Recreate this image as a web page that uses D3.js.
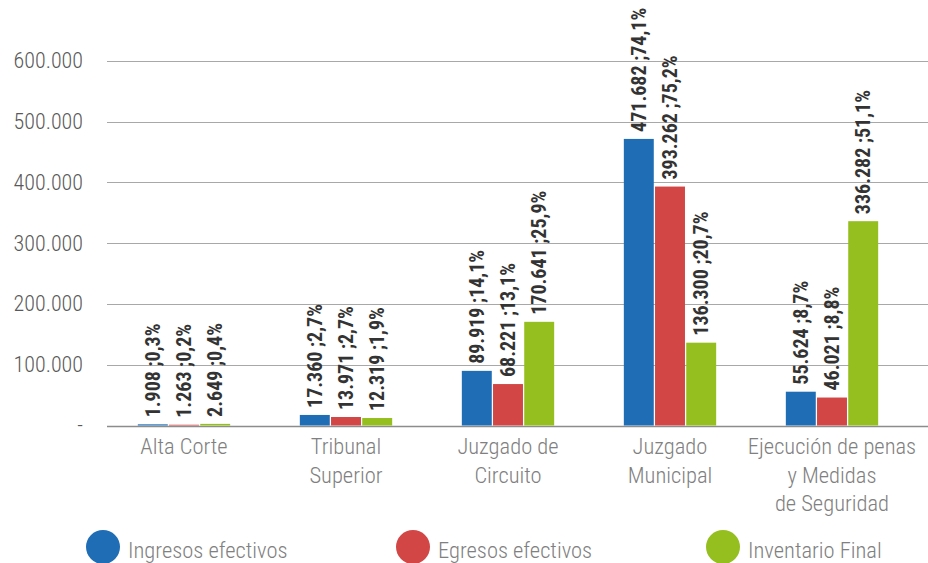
<!DOCTYPE html>
<html>
<head>
<meta charset="utf-8">
<script src="https://cdn.jsdelivr.net/npm/d3@7"></script>
<style>
  html, body { margin: 0; padding: 0; background: #fff; }
  svg { display: block; }
</style>
</head>
<body>
<svg id="chart" width="928" height="563"></svg>
<script>
const categories = ["Alta Corte", "Tribunal Superior", "Juzgado de Circuito", "Juzgado Municipal", "Ejecución de penas y Medidas de Seguridad"];
const categoryLines = [["Alta Corte"], ["Tribunal", "Superior"], ["Juzgado de", "Circuito"], ["Juzgado", "Municipal"], ["Ejecución de penas", "y Medidas", "de Seguridad"]];
const seriesNames = ["Ingresos efectivos", "Egresos efectivos", "Inventario Final"];
const ingresos = [1908, 17360, 89919, 471682, 55624];
const ingresosPct = ["0,3", "2,7", "14,1", "74,1", "8,7"];
const egresos = [1263, 13971, 68221, 393262, 46021];
const egresosPct = ["0,2", "2,7", "13,1", "75,2", "8,8"];
const inventario = [2649, 12319, 170641, 136300, 336282];
const inventarioPct = ["0,4", "1,9", "25,9", "20,7", "51,1"];
const yTicks = [0, 100000, 200000, 300000, 400000, 500000, 600000];
const colors = ["#1f6db5", "#d24646", "#95bf1f"];

const seriesValues = [ingresos, egresos, inventario];
const seriesPct = [ingresosPct, egresosPct, inventarioPct];

const loc = d3.formatLocale({decimal: ",", thousands: ".", grouping: [3], currency: ["$", ""]});
const fmt = loc.format(",d");
const tickFmt = d => d === 0 ? "-" : fmt(d);

const svg = d3.select("#chart");
const FONT = '"Roboto Condensed", "Liberation Sans Narrow", "DejaVu Sans Condensed", sans-serif';

const y = d3.scaleLinear().domain([0, 700000]).range([425.5, 0.2]);
const x0 = d3.scaleBand().domain(categories).range([103, 913]).paddingInner(0.43).paddingOuter(0.215);
const x1 = d3.scaleBand().domain(seriesNames).range([0, x0.bandwidth()]).paddingInner(0.04);

// grid
const gridX0 = 107, gridX1 = 928;
svg.append("g").selectAll("line").data(yTicks).join("line")
  .attr("x1", gridX0).attr("x2", gridX1)
  .attr("y1", d => Math.round(y(d)) + 0.5).attr("y2", d => Math.round(y(d)) + 0.5)
  .attr("stroke", d => d === 0 ? "#8c8c8c" : "#a8a8a8").attr("stroke-width", d => d === 0 ? 1.5 : 1);

// y tick labels
svg.append("g").selectAll("text").data(yTicks).join("text")
  .attr("x", 83).attr("y", d => y(d) + 7.5)
  .attr("text-anchor", "end")
  .attr("font-family", FONT).attr("font-weight", 300)
  .attr("font-size", 22).attr("fill", "#595959")
  .text(tickFmt);

// bars
const rows = [];
categories.forEach((c, i) => seriesNames.forEach((s, j) => rows.push({c, s, j, v: seriesValues[j][i], p: seriesPct[j][i]})));

svg.append("g").selectAll("rect").data(rows).join("rect")
  .attr("x", d => x0(d.c) + x1(d.s))
  .attr("y", d => y(d.v))
  .attr("width", x1.bandwidth())
  .attr("height", d => y(0) - y(d.v))
  .attr("fill", d => colors[d.j]);

// bar labels
svg.append("g").selectAll("text").data(rows).join("text")
  .attr("transform", d => `translate(${x0(d.c) + x1(d.s) + x1.bandwidth() / 2},${y(d.v) - 7}) rotate(-90)`)
  .attr("dy", "0.36em")
  .attr("font-family", FONT).attr("font-weight", 700)
  .attr("font-size", 20).attr("fill", "#333")
  .text(d => `${fmt(d.v)} ;${d.p}%`);

// x labels
const xl = svg.append("g").selectAll("text").data(categories).join("text")
  .attr("x", d => x0(d) + x0.bandwidth() / 2)
  .attr("y", 454)
  .attr("text-anchor", "middle")
  .attr("font-family", FONT).attr("font-weight", 300)
  .attr("font-size", 22.5).attr("fill", "#808080");
xl.each(function(d, i) {
  d3.select(this).selectAll("tspan").data(categoryLines[i]).join("tspan")
    .attr("x", x0(d) + x0.bandwidth() / 2)
    .attr("dy", (t, k) => k === 0 ? 0 : 28.5)
    .text(t => t);
});

// legend
const legendX = d3.scalePoint().domain(seriesNames).range([103, 723]);
const lg = svg.append("g").selectAll("g").data(seriesNames).join("g")
  .attr("transform", d => `translate(${legendX(d)},547)`);
lg.append("circle").attr("r", 17).attr("fill", (d, i) => colors[i]);
lg.append("text").attr("x", 25).attr("y", 11)
  .attr("font-family", FONT).attr("font-weight", 300)
  .attr("font-size", 22.5).attr("fill", "#808080")
  .text(d => d);
</script>
</body>
</html>
